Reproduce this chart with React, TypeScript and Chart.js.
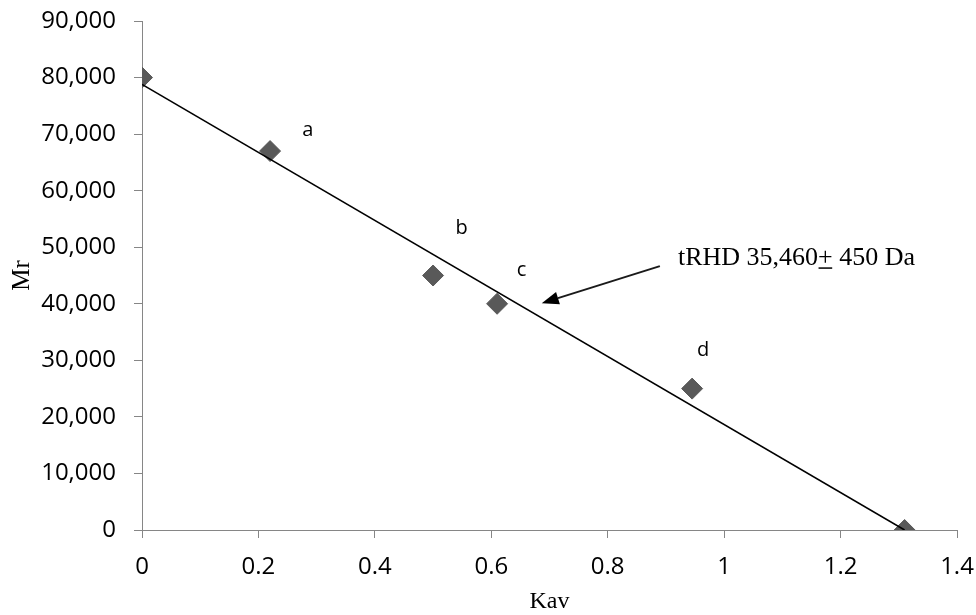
import React, { useEffect, useRef } from "react";
import { Chart, registerables } from "chart.js";

Chart.register(...registerables);

// ---- Data ----
const kavValues = [0, 0.22, 0.5, 0.61, 0.945, 1.31];
const mrValues = [80000, 67000, 45000, 40000, 25000, 0];

const trendKav = [0, 1.31];
const trendMr = [78800, 0];

const xTickValues = [0, 0.2, 0.4, 0.6, 0.8, 1, 1.2, 1.4];
const yTickValues = [0, 10000, 20000, 30000, 40000, 50000, 60000, 70000, 80000, 90000];

const pointLabels = ["a", "b", "c", "d"];
const pointLabelKav = [0.285, 0.549, 0.652, 0.964];
const pointLabelMr = [70600, 53400, 45950, 31800];

const annotationTextBefore = "tRHD 35,460";
const annotationPlus = "+";
const annotationTextAfter = " 450 Da";
const annotationKav = 0.9206;
const annotationMr = 46800;
const arrowFrom = { kav: 0.8896, mr: 46650 };
const arrowTo = { kav: 0.6867, mr: 40100 };

const SANS = "'Open Sans', 'Liberation Sans', sans-serif";
const SERIF = "'Liberation Serif', 'Times New Roman', serif";
const AXIS_GRAY = "#868686";

const annotationPlugin = {
  id: "kavAnnotations",
  afterDatasetsDraw(chart: any) {
    const { ctx, scales } = chart;
    const xs = scales.x;
    const ys = scales.y;
    ctx.save();

    // point letters
    ctx.fillStyle = "#000";
    ctx.font = `20px ${SANS}`;
    ctx.textAlign = "center";
    ctx.textBaseline = "middle";
    pointLabels.forEach((t, i) => {
      ctx.fillText(t, xs.getPixelForValue(pointLabelKav[i]), ys.getPixelForValue(pointLabelMr[i]));
    });

    // annotation text
    const tx = xs.getPixelForValue(annotationKav);
    const ty = ys.getPixelForValue(annotationMr);
    ctx.font = `26px ${SERIF}`;
    ctx.textAlign = "left";
    ctx.textBaseline = "alphabetic";
    ctx.fillText(annotationTextBefore, tx, ty);
    const w1 = ctx.measureText(annotationTextBefore).width;
    ctx.fillText(annotationPlus, tx + w1, ty);
    const wp = ctx.measureText(annotationPlus).width;
    ctx.fillRect(tx + w1 + 0.5, ty + 2, wp - 1, 1.5);
    ctx.fillText(annotationTextAfter, tx + w1 + wp, ty);

    // arrow
    const x0 = xs.getPixelForValue(arrowFrom.kav);
    const y0 = ys.getPixelForValue(arrowFrom.mr);
    const x1 = xs.getPixelForValue(arrowTo.kav);
    const y1 = ys.getPixelForValue(arrowTo.mr);
    const ang = Math.atan2(y1 - y0, x1 - x0);
    const headLen = 17;
    const headHalf = 6.5;
    const bx = x1 - headLen * Math.cos(ang);
    const by = y1 - headLen * Math.sin(ang);
    ctx.strokeStyle = "#1a1a1a";
    ctx.lineWidth = 2;
    ctx.beginPath();
    ctx.moveTo(x0, y0);
    ctx.lineTo(bx, by);
    ctx.stroke();
    ctx.fillStyle = "#000";
    ctx.beginPath();
    ctx.moveTo(x1, y1);
    ctx.lineTo(bx + headHalf * Math.sin(ang), by - headHalf * Math.cos(ang));
    ctx.lineTo(bx - headHalf * Math.sin(ang), by + headHalf * Math.cos(ang));
    ctx.closePath();
    ctx.fill();

    ctx.restore();
  },
};

export default function App() {
  const canvasRef = useRef<HTMLCanvasElement | null>(null);

  useEffect(() => {
    const canvas = canvasRef.current;
    if (!canvas) return;
    const chart = new Chart(canvas, {
      type: "scatter",
      data: {
        datasets: [
          {
            label: "Trend",
            data: trendKav.map((x, i) => ({ x, y: trendMr[i] })),
            showLine: true,
            pointRadius: 0,
            borderColor: "#000",
            borderWidth: 1.6,
            order: 0,
          },
          {
            label: "Mr",
            data: kavValues.map((x, i) => ({ x, y: mrValues[i] })),
            pointStyle: "rectRot",
            pointRadius: 10.5,
            backgroundColor: "#595959",
            borderColor: "#595959",
            borderWidth: 1,
            order: 1,
          },
        ],
      },
      options: {
        animation: false,
        responsive: false,
        devicePixelRatio: 1,
        layout: { padding: { left: 0, right: 19, top: 21, bottom: 0 } },
        plugins: {
          legend: { display: false },
          tooltip: { enabled: false },
        },
        scales: {
          x: {
            type: "linear",
            min: 0,
            max: 1.4,
            afterBuildTicks: (scale: any) => {
              scale.ticks = xTickValues.map((v) => ({ value: v }));
            },
            afterFit: (scale: any) => {
              scale.height = 85;
              scale.paddingLeft = 0;
              scale.paddingRight = 0;
            },
            ticks: {
              color: "#000",
              font: { family: SANS, size: 24 },
              padding: 15,
              maxRotation: 0,
              callback: (v: any) => String(Number(Number(v).toFixed(1))),
            },
            grid: {
              drawOnChartArea: false,
              drawTicks: true,
              tickLength: 8,
              color: AXIS_GRAY,
            },
            border: { display: true, color: AXIS_GRAY, width: 1 },
            title: {
              display: true,
              text: "Kav",
              color: "#000",
              font: { family: SERIF, size: 24, lineHeight: 1 },
              padding: { top: 0, bottom: 1 },
            },
          },
          y: {
            type: "linear",
            min: 0,
            max: 90000,
            afterBuildTicks: (scale: any) => {
              scale.ticks = yTickValues.map((v) => ({ value: v }));
            },
            afterFit: (scale: any) => {
              scale.width = 142;
              scale.paddingTop = 0;
              scale.paddingBottom = 0;
            },
            ticks: {
              color: "#000",
              font: { family: SANS, size: 24 },
              padding: 18,
              callback: (v: any) => Number(v).toLocaleString("en-US"),
            },
            grid: {
              drawOnChartArea: false,
              drawTicks: true,
              tickLength: 8,
              color: AXIS_GRAY,
            },
            border: { display: true, color: AXIS_GRAY, width: 1 },
            title: {
              display: true,
              text: "Mr",
              color: "#000",
              font: { family: SERIF, size: 25, lineHeight: 1.2 },
              padding: { top: 7, bottom: 0 },
            },
          },
        },
      },
      plugins: [annotationPlugin],
    });
    return () => chart.destroy();
  }, []);

  return (
    <div style={{ position: "absolute", left: 0, top: 0, width: 976, height: 615, background: "#fff" }}>
      <canvas ref={canvasRef} width={976} height={615} style={{ width: 976, height: 615, display: "block" }} />
    </div>
  );
}
